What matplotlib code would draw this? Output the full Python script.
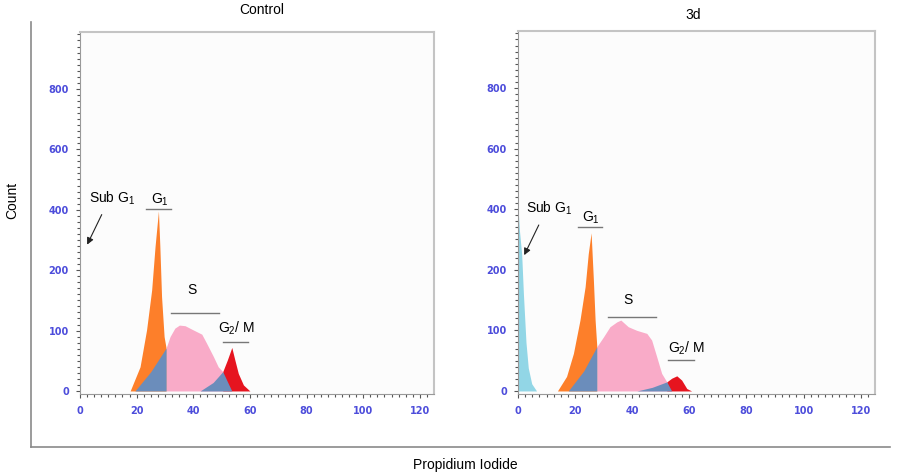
import numpy as np
import matplotlib
matplotlib.use("Agg")
import matplotlib.pyplot as plt

plt.rcParams['font.family'] = ['Liberation Sans', 'DejaVu Sans']
plt.rcParams['mathtext.fontset'] = 'custom'
plt.rcParams['mathtext.rm'] = 'Liberation Sans'

# --- data (PI channel, cell count) ---
ctrl_g1_x = [17.7, 21.2, 23.5, 25.3, 26.5, 27.7, 28.2, 28.8, 29.7, 30.4]
ctrl_g1_y = [0, 40, 101, 167, 278, 396, 278, 156, 90, 71]
ctrl_s_x = [30.4, 31.8, 33.5, 35.1, 37.1, 40.0, 43.0, 44.7, 47.1, 48.8, 50.4]
ctrl_s_y = [71, 90, 104, 109, 108, 101, 94, 79, 57, 40, 32]
ctrl_g2_x = [50.4, 52.0, 53.6, 54.7, 55.9, 57.7, 60.0]
ctrl_g2_y = [32, 51, 72, 51, 29, 10, 0]
ctrl_sl_x = [19.4, 25.0, 30.4]          # S-phase tail under G1
ctrl_sl_y = [0, 32, 71]
ctrl_sr_x = [42.4, 47.0, 50.4, 53.6]    # S-phase tail under G2/M
ctrl_sr_y = [0, 14, 32, 0]

d3_sub_x = [0.0, 0.5, 1.3, 1.9, 2.8, 3.6, 4.8, 6.5]
d3_sub_y = [405, 330, 250, 160, 80, 38, 12, 0]
d3_g1_x = [13.8, 17.0, 19.4, 21.7, 23.5, 24.6, 25.6, 26.4, 27.0, 27.6]
d3_g1_y = [0, 24, 62, 117, 172, 253, 322, 183, 117, 73]
d3_s_x = [27.6, 29.9, 32.2, 34.6, 36.0, 38.6, 41.6, 45.1, 46.8, 48.6, 50.3, 52.1]
d3_s_y = [73, 89, 106, 114, 117, 106, 100, 95, 84, 56, 29, 15]
d3_g2_x = [52.1, 53.8, 55.6, 57.3, 59.1, 60.8]
d3_g2_y = [15, 21, 25, 18, 4, 0]
d3_sl_x = [17.6, 23.0, 27.6]
d3_sl_y = [0, 33, 73]
d3_sr_x = [41.6, 47.0, 52.1, 53.8]
d3_sr_y = [0, 6, 15, 0]

y_ticks = [0, 100, 200, 400, 600, 800]
x_ticks = [0, 20, 40, 60, 80, 100, 120]

# piecewise axis used by the cytometer software (0,100,200,400,... evenly spaced)
scale_vals = [-100, 0, 100, 200, 400, 600, 800, 1000]
scale_idx = [-1, 0, 1, 2, 3, 4, 5, 6]

def fwd(v):
    return np.interp(v, scale_vals, scale_idx)

def inv(i):
    return np.interp(i, scale_idx, scale_vals)

C_ORANGE = '#fd7f2a'
C_PINK = '#f9abc8'
C_RED = '#e6141f'
C_BLUE = '#6b8dbb'
C_CYAN = '#92d6e6'
TICK_BLUE = '#4d4ddb'

fig = plt.figure(figsize=(9, 4.76), dpi=100)


def setup(ax):
    ax.set_yscale('function', functions=(fwd, inv))
    ax.set_xlim(0, 125)
    ax.set_ylim(-5, 988)
    ax.set_facecolor('#fcfcfc')
    ax.set_yticks(y_ticks)
    ax.set_xticks(x_ticks)
    ax.set_yticks(inv(np.arange(0, 6.0, 0.1)), minor=True)
    ax.set_xticks(np.arange(0, 125, 2.5), minor=True)
    ax.tick_params(which='both', direction='out', color='#555555', width=0.8)
    ax.tick_params(which='major', length=3, labelsize=7, labelcolor=TICK_BLUE)
    ax.tick_params(which='minor', length=2)
    ax.tick_params(axis='y', pad=5)
    ax.tick_params(axis='x', pad=6)
    for lab in ax.get_xticklabels() + ax.get_yticklabels():
        lab.set_fontweight('bold')
        lab.set_family('DejaVu Sans')
    for s in ['top', 'right']:
        ax.spines[s].set_color('#c4c4c4')
        ax.spines[s].set_linewidth(1.5)
    ax.spines['left'].set_color('#999999')
    ax.spines['bottom'].set_color('#999999')
    ax.spines['left'].set_linewidth(0.8)
    ax.spines['bottom'].set_linewidth(0.8)


def draw(ax, g1, s, g2, sl, sr, sub=None):
    if sub is not None:
        ax.fill_between(sub[0], 0, sub[1], color=C_CYAN, lw=0)
    ax.fill_between(g1[0], 0, g1[1], color=C_ORANGE, lw=0)
    ax.fill_between(s[0], 0, s[1], color=C_PINK, lw=0)
    ax.fill_between(g2[0], 0, g2[1], color=C_RED, lw=0)
    ax.fill_between(sl[0], 0, sl[1], color=C_BLUE, lw=0)
    ax.fill_between(sr[0], 0, sr[1], color=C_BLUE, lw=0)


def labels(ax, sub_txt, sub_tail, sub_head, g1_pos, g1_bar, s_pos, s_bar, g2_pos, g2_bar):
    ax.text(sub_txt[0], sub_txt[1], r'Sub G$\mathregular{_1}$', fontsize=10,
            ha='left', va='center')
    ax.annotate('', xy=sub_head, xytext=sub_tail,
                arrowprops=dict(arrowstyle='-|>', color='#222222', lw=0.8,
                                mutation_scale=10))
    ax.text(g1_pos[0], g1_pos[1], r'G$\mathregular{_1}$', fontsize=10,
            ha='center', va='center')
    ax.plot(g1_bar[0], g1_bar[1], color='#777777', lw=1)
    ax.text(s_pos[0], s_pos[1], 'S', fontsize=10, ha='center', va='center')
    ax.plot(s_bar[0], s_bar[1], color='#777777', lw=1)
    ax.text(g2_pos[0], g2_pos[1], r'G$\mathregular{_2}$/ M', fontsize=10,
            ha='center', va='center')
    ax.plot(g2_bar[0], g2_bar[1], color='#777777', lw=1)


ax1 = fig.add_axes([80 / 900, 1 - 394 / 476, 354 / 900, 362 / 476])
setup(ax1)
draw(ax1, (ctrl_g1_x, ctrl_g1_y), (ctrl_s_x, ctrl_s_y), (ctrl_g2_x, ctrl_g2_y),
     (ctrl_sl_x, ctrl_sl_y), (ctrl_sr_x, ctrl_sr_y))
labels(ax1, (3.2, 436), (8.1, 392), (2.1, 276),
       (28.2, 432), ([23.3, 32.1], [401, 401]),
       (39.5, 167), ([32.1, 49.1], [129, 129]),
       (55.4, 104), ([50.5, 59.3], [81, 81]))

ax2 = fig.add_axes([518 / 900, 1 - 394 / 476, 357 / 900, 363 / 476])
setup(ax2)
draw(ax2, (d3_g1_x, d3_g1_y), (d3_s_x, d3_s_y), (d3_g2_x, d3_g2_y),
     (d3_sl_x, d3_sl_y), (d3_sr_x, d3_sr_y), sub=(d3_sub_x, d3_sub_y))
labels(ax2, (2.8, 402), (7.7, 356), (1.75, 240),
       (25.6, 370), ([21.0, 29.4], [340, 340]),
       (38.5, 150), ([31.5, 48.3], [122, 122]),
       (58.8, 71), ([52.5, 61.6], [51, 51]))

# outer frame
fig.add_artist(plt.Line2D([31 / 900, 31 / 900], [1 - 22 / 476, 1 - 447 / 476],
                          color='#8a8a8a', lw=1.2))
fig.add_artist(plt.Line2D([31 / 900, 890 / 900], [1 - 447 / 476, 1 - 447 / 476],
                          color='#8a8a8a', lw=1.2))

fig.text(262 / 900, 1 - 10 / 476, 'Control', fontsize=10, ha='center', va='center')
fig.text(693 / 900, 1 - 15 / 476, '3d', fontsize=10, ha='center', va='center')
fig.text(12 / 900, 1 - 200 / 476, 'Count', fontsize=10, ha='center', va='center',
         rotation=90)
fig.text(465 / 900, 1 - 465 / 476, 'Propidium Iodide', fontsize=10, ha='center',
         va='center')

fig.savefig('out.png', dpi=100)
